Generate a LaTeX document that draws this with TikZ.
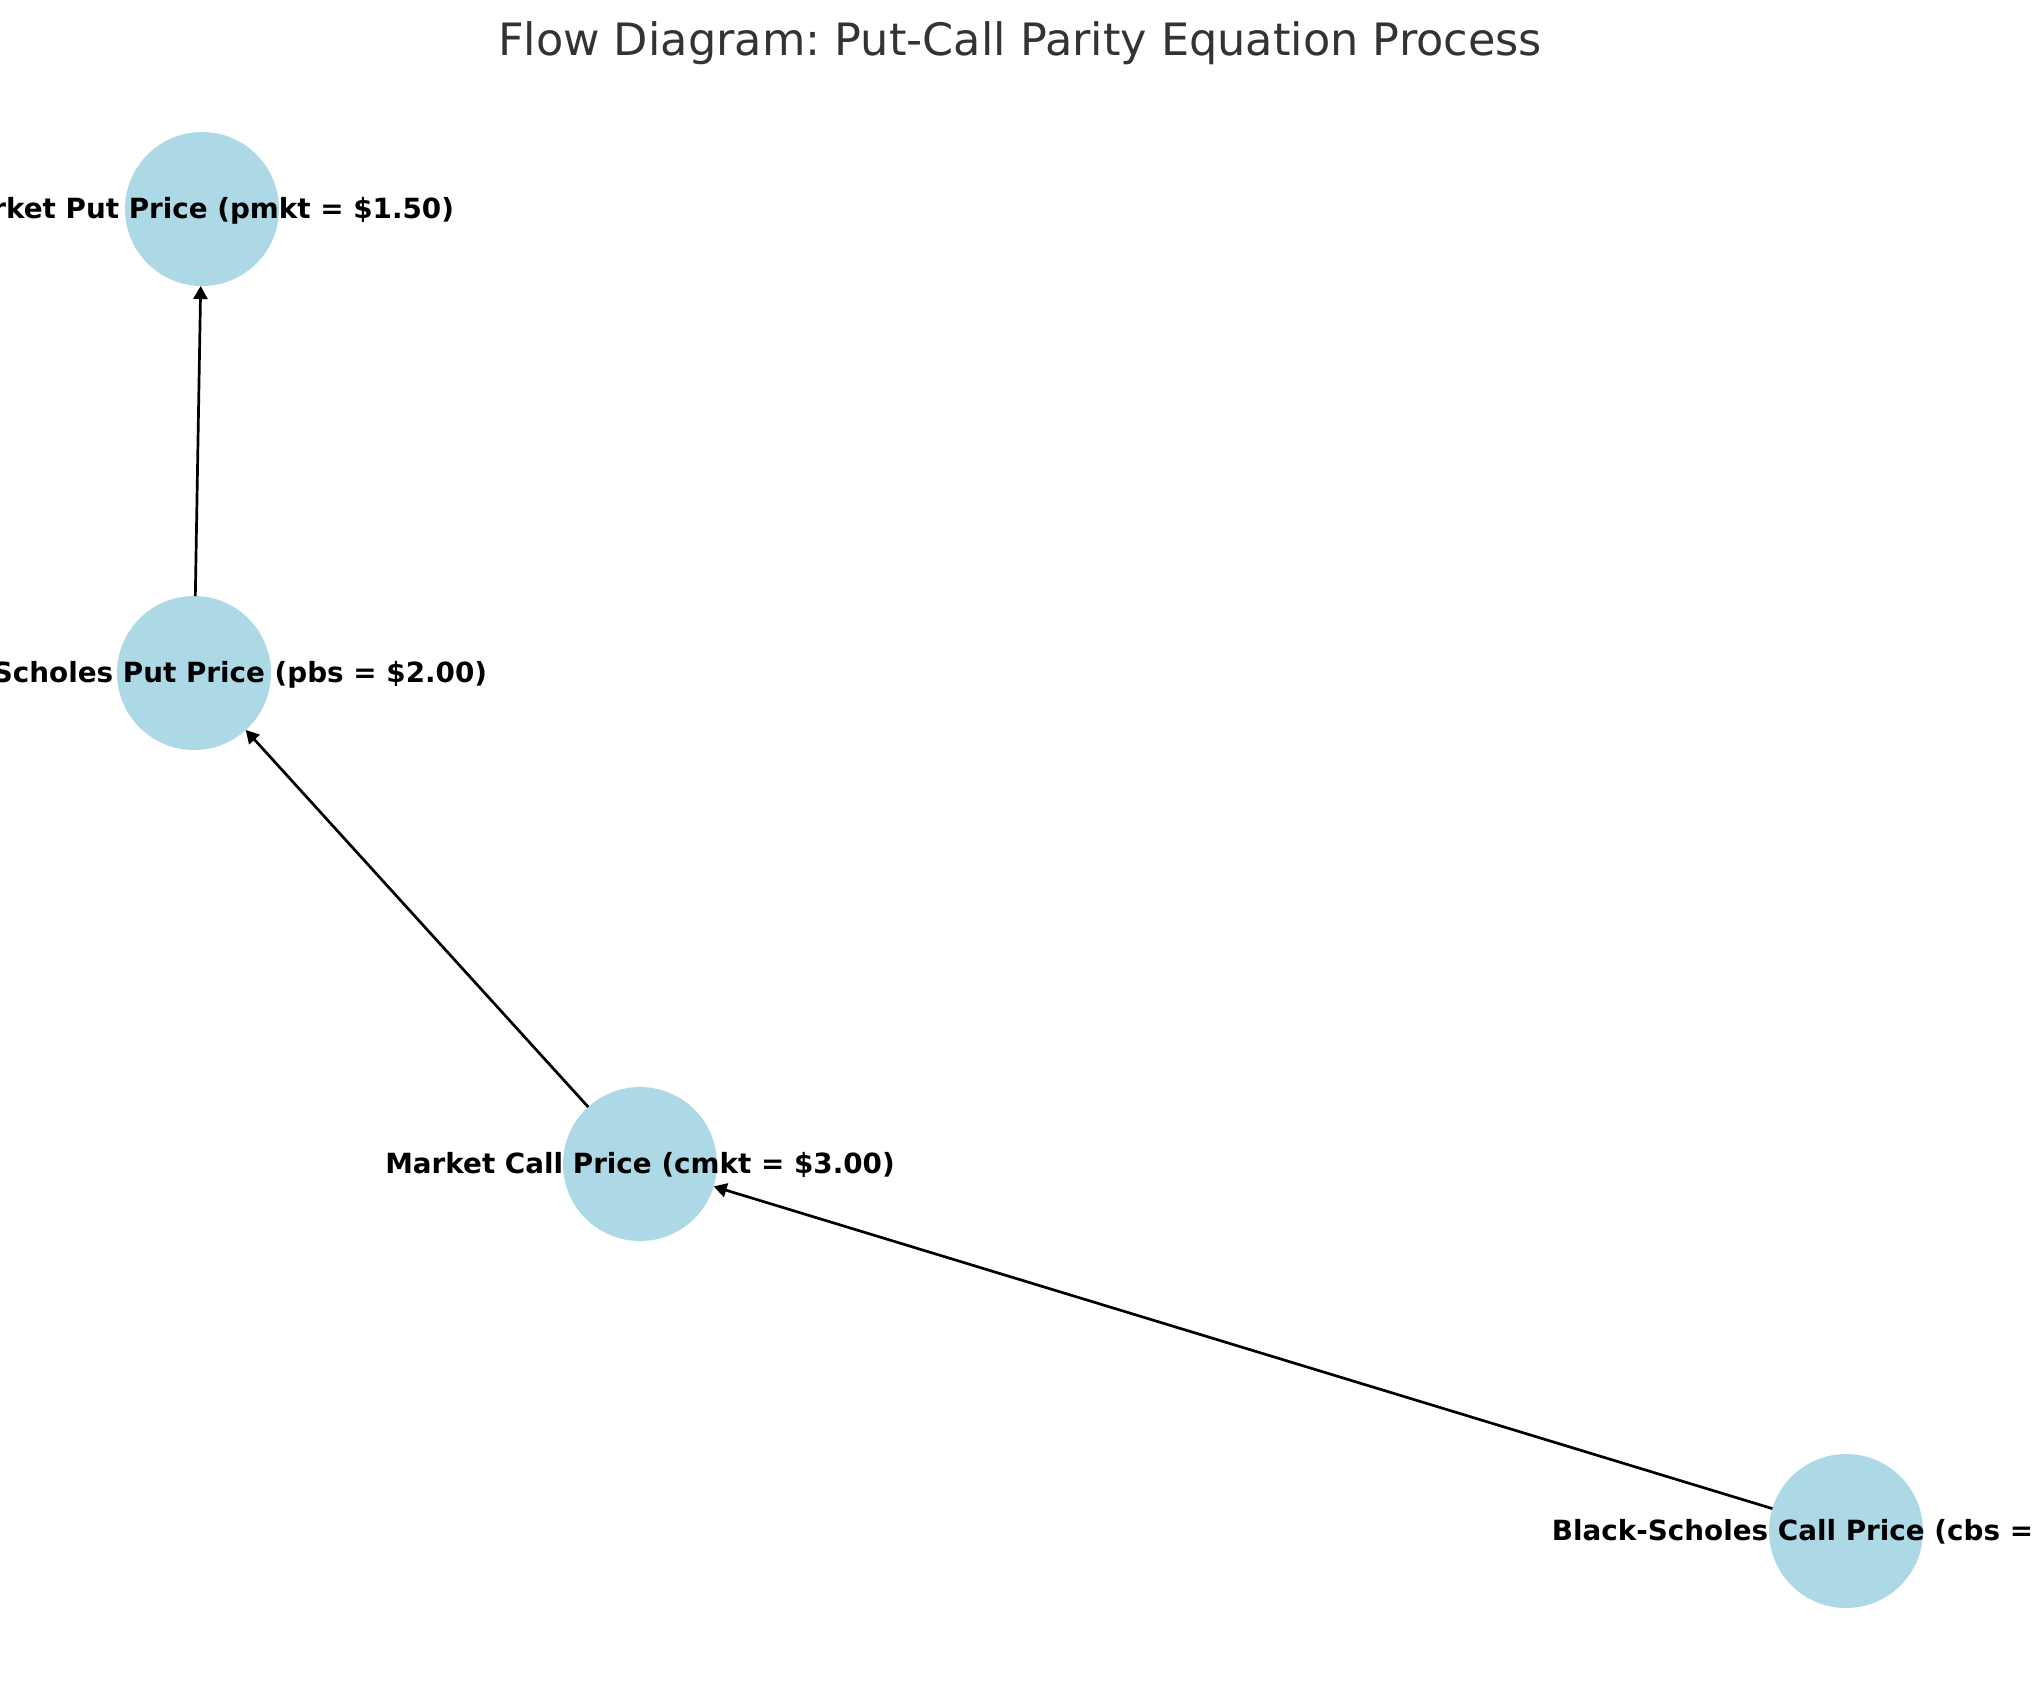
\documentclass[tikz,border=0pt]{standalone}
\usepackage{fontspec}
\setmainfont{DejaVu Sans}
\usetikzlibrary{arrows.meta}
\definecolor{nodeblue}{HTML}{ADD8E6}
\definecolor{titlegray}{HTML}{333333}
\frenchspacing

\begin{document}
\begin{tikzpicture}[x=1pt,y=-1pt,
	pricenode/.style={circle,fill=nodeblue,draw=none,minimum size=154pt,inner sep=0pt,outer sep=0pt},
	pricelabel/.style={inner sep=0pt,font=\bfseries\fontsize{27.8}{33}\selectfont},
	edge/.style={line width=2.7pt,-{Triangle[length=13pt,width=14pt]}}]
	\useasboundingbox (0,0) rectangle (2039,1690);
	\clip (0,0) rectangle (2039,1690);

	% title
	\node[anchor=base,text=titlegray,font=\fontsize{44.6}{53}\selectfont] (title) at (1020,55)
		{Flow Diagram: Put-Call Parity Equation Process};

	% price nodes
	\node[pricenode] (mktput) at (202,209) {};
	\node[pricenode] (bsput) at (194,673) {};
	\node[pricenode] (mktcall) at (640,1164) {};
	\node[pricenode] (bscall) at (1846,1531) {};

	% flow
	\draw[edge] (bscall) -- (mktcall);
	\draw[edge] (mktcall) -- (bsput);
	\draw[edge] (bsput) -- (mktput);

	% labels
	\path (mktput) ++(-2,9) node[pricelabel,anchor=base] (mktputlab) {Market Put Price (pmkt = \$1.50)};
	\path (bsput) ++(-2,9) node[pricelabel,anchor=base] (bsputlab) {Black-Scholes Put Price (pbs = \$2.00)};
	\path (mktcall) ++(0,9) node[pricelabel,anchor=base] (mktcalllab) {Market Call Price (cmkt = \$3.00)};
	\path (1551.7,1540) node[pricelabel,anchor=base west] (bscalllab) {Black-Scholes Call Price (cbs =};
\end{tikzpicture}
\end{document}
